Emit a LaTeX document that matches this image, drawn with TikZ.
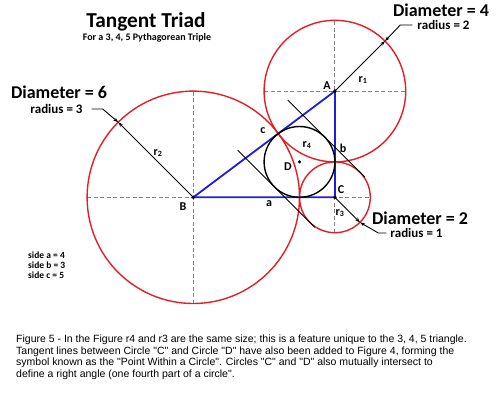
\documentclass[tikz,border=0pt]{standalone}
\usepackage{fontspec}
\setmainfont{Carlito}
\newfontfamily\captionfont{Liberation Sans}
\usetikzlibrary{calc,arrows.meta}
\definecolor{circred}{RGB}{228,30,36}
\definecolor{triblue}{RGB}{30,30,225}
\definecolor{axisgray}{RGB}{130,130,130}
\begin{document}
\begin{tikzpicture}[x=1pt,y=1pt,>={Stealth[length=5pt,width=3.5pt]},
	circ/.style={circred,line width=1.4pt},
	axis/.style={axisgray,line width=1pt,dash pattern=on 4pt off 2.5pt},
	side/.style={triblue,line width=1.8pt},
	radline/.style={->,line width=0.9pt},
	leader/.style={->,line width=0.9pt},
	tangent/.style={line width=0.9pt},
	lbl/.style={font=\bfseries\fontsize{12}{14}\selectfont,inner sep=1pt},
	diam/.style={font=\bfseries\fontsize{18}{20}\selectfont,inner sep=0pt},
	rad/.style={font=\bfseries\fontsize{13}{15}\selectfont,inner sep=0pt}]
	\def\u{35.4}
	\useasboundingbox (0,0) rectangle (500,400);
	\coordinate (B) at (193.3,202.7);
	\coordinate (C) at ($(B)+(4*\u,0)$);
	\coordinate (A) at ($(C)+(0,3*\u)$);
	\coordinate (D) at ($(C)+(-\u,\u)$);
	\coordinate (rA) at ($(A)+(45:2*\u)$);
	\coordinate (rB) at ($(B)+(135:3*\u)$);
	\coordinate (rC) at ($(C)+(-45:\u)$);
	% centre lines
	\foreach \p/\r in {B/3,A/2,C/1}{
		\draw[axis] ($(\p)+(-\r*\u,0)$) -- ($(\p)+(\r*\u,0)$);
		\draw[axis] ($(\p)+(0,-\r*\u)$) -- ($(\p)+(0,\r*\u)$);
	}
	\draw[side] (A) -- (B) -- (C) -- cycle;
	\draw[circ] (B) circle[radius={3*\u pt}];
	\draw[circ] (A) circle[radius={2*\u pt}];
	\draw[circ] (C) circle[radius={\u pt}];
	\draw[line width=1.4pt] (D) circle[radius={\u pt}];
	% tangent lines between C and D
	\coordinate (tD1) at ($(D)+(45:\u)$);
	\coordinate (tC1) at ($(C)+(45:\u)$);
	\coordinate (tD2) at ($(D)+(225:\u)$);
	\coordinate (tC2) at ($(C)+(225:\u)$);
	\draw[tangent] ($(tD1)!-52pt!(tC1)$) -- ($(tC1)!-7pt!(tD1)$);
	\draw[tangent] ($(tD2)!-52pt!(tC2)$) -- ($(tC2)!-7pt!(tD2)$);
	% radii
	\draw[radline] (A) -- (rA);
	\draw[radline] (B) -- (rB);
	\draw[radline] (C) -- (rC);
	\foreach \p in {A,B,C}
		\fill (\p) circle[radius=1.9pt];
	\fill (D) circle[radius=1.7pt];
	% labels
	\node[lbl] (labA) at (327,314) {A};
	\node[lbl] (labB) at (183,193) {B};
	\node[lbl] (labC) at (341,210) {C};
	\node[lbl] (labD) at (288,233) {D};
	\node[lbl] (laba) at (269,196) {a};
	\node[lbl] (labb) at (343,252) {b};
	\node[lbl] (labc) at (263,269) {c};
	\node[lbl] (r1) at (363,320) {r\textsubscript{1}};
	\node[lbl] (r2) at (158,247) {r\textsubscript{2}};
	\node[lbl] (r3) at (340,187) {r\textsubscript{3}};
	\node[lbl] (r4) at (307,255) {r\textsubscript{4}};
	% headings
	\node[font=\bfseries\fontsize{21.3}{24}\selectfont] (title) at (146,378) {Tangent Triad};
	\node[font=\bfseries\fontsize{10}{12}\selectfont] (subtitle) at (147,362) {For a 3, 4, 5 Pythagorean Triple};
	\node[diam] (diam6) at (59,308) {Diameter = 6};
	\node[rad] (rad3) at (56.5,291) {radius = 3};
	\node[diam] (diam4) at (441,390) {Diameter = 4};
	\node[rad] (rad2) at (443.5,375) {radius = 2};
	\node[diam] (diam2) at (420,182) {Diameter = 2};
	\node[rad] (rad1) at (416.5,167) {radius = 1};
	\draw[leader] ([xshift=9pt]rad3.east) -- ++(11,0) -- (rB);
	\draw[leader] ([xshift=-5pt]rad2.west) -- ++(-12,0) -- (rA);
	\draw[leader] ([xshift=-4pt]rad1.west) -- ++(-8,0) -- (rC);
	\node[anchor=west,align=left,inner sep=0pt,font=\bfseries\fontsize{9.5}{9.8}\selectfont] (sides) at (28,135) {side a = 4\\side b = 3\\side c = 5};
	\node[anchor=north west,align=left,inner sep=0pt,font=\captionfont\fontsize{10.5}{11.7}\selectfont] (caption) at (16,65.5)
		{Figure 5 - In the Figure r4 and r3 are the same size; this is a feature unique to the 3, 4, 5 triangle.\\
		Tangent lines between Circle "C" and Circle "D" have also been added to Figure 4, forming the\\
		symbol known as the "Point Within a Circle". Circles "C" and "D" also mutually intersect to\\
		define a right angle (one fourth part of a circle".};
\end{tikzpicture}
\end{document}
